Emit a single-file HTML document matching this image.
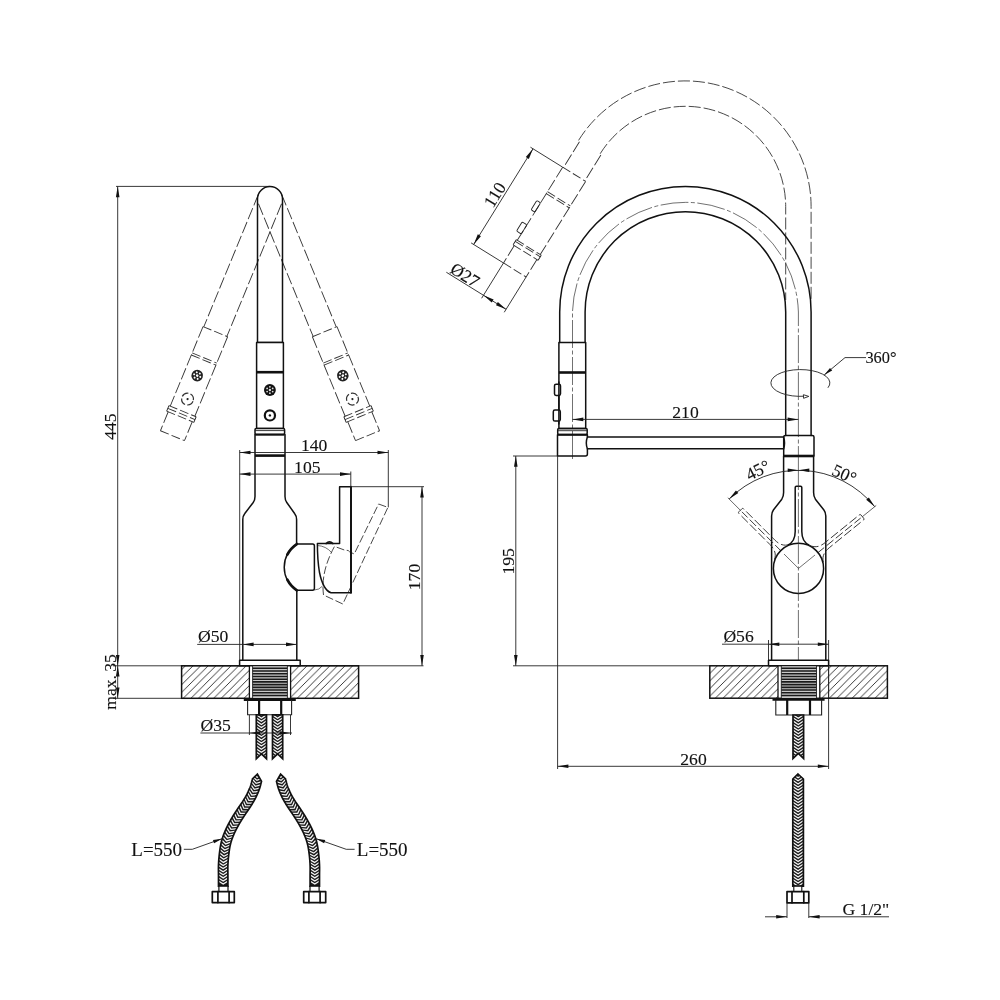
<!DOCTYPE html>
<html><head><meta charset="utf-8"><title>Faucet drawing</title>
<style>
html,body{margin:0;padding:0;background:#fff}
svg{display:block}
text{font-family:"Liberation Serif",serif;font-size:17.6px;fill:#111;stroke:#111;stroke-width:0.12}
.k{fill:none;stroke:#111;stroke-width:1.5;stroke-linejoin:round;stroke-linecap:round}
.kf{fill:#fff;stroke:#111;stroke-width:1.5;stroke-linejoin:round}
.h{fill:none;stroke:#111;stroke-width:2.6}
.t{fill:none;stroke:#222;stroke-width:0.9}
.tt{fill:none;stroke:#333;stroke-width:0.7}
.d{fill:none;stroke:#333;stroke-width:0.9;stroke-dasharray:12 3}
.d2{fill:none;stroke:#333;stroke-width:0.9;stroke-dasharray:9 3}
.ds{fill:none;stroke:#333;stroke-width:0.9;stroke-dasharray:5 2.5}
.c{fill:none;stroke:#333;stroke-width:0.7;stroke-dasharray:28 2.5 4 2.5}
.ar{fill:#111;stroke:none}
</style></head><body>
<svg width="1000" height="1000" viewBox="0 0 1000 1000" style="will-change:transform">
<defs>
<pattern id="hatch" patternUnits="userSpaceOnUse" width="7.6" height="7.6">
<path d="M-1,8.6 L8.6,-1 M-1,1 L1,-1 M6.6,8.6 L8.6,6.6" stroke="#222" stroke-width="0.9" fill="none"/>
</pattern>
</defs>
<rect width="1000" height="1000" fill="#fff"/>

<g id="left">
<path class="t" d="M116,186.4 H270 M117.7,186.4 V698.4 M113,665.8 H423.5 M113,698.3 H181.6"/>
<path class="ar" d="M117.70,186.40 L119.50,197.20 L115.90,197.20 Z"/>
<path class="ar" d="M117.70,665.80 L115.90,655.00 L119.50,655.00 Z"/>
<path class="ar" d="M117.70,665.80 L119.50,676.60 L115.90,676.60 Z"/>
<path class="ar" d="M117.70,698.30 L115.90,687.50 L119.50,687.50 Z"/>
<text transform="translate(116,426.6) rotate(-90)" text-anchor="middle">445</text>
<text transform="translate(116,682) rotate(-90)" text-anchor="middle" style="word-spacing:-1.2px">max. 35</text>
<g transform="rotate(22.4 270 199) translate(270 0)"><path class="d" d="M-12.5,199 V342.5 M12.5,199 V342.5"/>
<path class="d2" d="M-13.3,342.5 H13.3"/>
<path class="d" d="M-13.3,342.5 V428.5 M13.3,342.5 V428.5"/>
<path class="d2" d="M-13.3,371 H13.3 M-13.3,373.2 H13.3"/>
<path class="d2" d="M-14.7,428.5 H14.7 M-14.7,431.5 H14.7 M-14.7,434.5 H14.7"/>
<path class="t" d="M-14.7,428.5 V434.5 M14.7,428.5 V434.5"/>
<path class="d" d="M-13,434.5 V455 M13,434.5 V455"/>
<path class="d2" d="M-13,455 H13"/>
<circle cx="0" cy="390" r="5.8" fill="#222"/>
<circle cx="3.30" cy="390.00" r="1.0" fill="#fff"/>
<circle cx="1.65" cy="392.86" r="1.0" fill="#fff"/>
<circle cx="-1.65" cy="392.86" r="1.0" fill="#fff"/>
<circle cx="-3.30" cy="390.00" r="1.0" fill="#fff"/>
<circle cx="-1.65" cy="387.14" r="1.0" fill="#fff"/>
<circle cx="1.65" cy="387.14" r="1.0" fill="#fff"/>
<circle cx="0" cy="390" r="1.3" fill="#fff"/>
<circle cx="0" cy="415.4" r="5.9" class="ds" style="stroke-width:1.2;stroke-dasharray:7 2.3"/>
<circle cx="0" cy="415.4" r="1.1" fill="#222"/></g>
<g transform="rotate(-22.4 270 199) translate(270 0)"><path class="d" d="M-12.5,199 V342.5 M12.5,199 V342.5"/>
<path class="d2" d="M-13.3,342.5 H13.3"/>
<path class="d" d="M-13.3,342.5 V428.5 M13.3,342.5 V428.5"/>
<path class="d2" d="M-13.3,371 H13.3 M-13.3,373.2 H13.3"/>
<path class="d2" d="M-14.7,428.5 H14.7 M-14.7,431.5 H14.7 M-14.7,434.5 H14.7"/>
<path class="t" d="M-14.7,428.5 V434.5 M14.7,428.5 V434.5"/>
<path class="d" d="M-13,434.5 V455 M13,434.5 V455"/>
<path class="d2" d="M-13,455 H13"/>
<circle cx="0" cy="390" r="5.8" fill="#222"/>
<circle cx="3.30" cy="390.00" r="1.0" fill="#fff"/>
<circle cx="1.65" cy="392.86" r="1.0" fill="#fff"/>
<circle cx="-1.65" cy="392.86" r="1.0" fill="#fff"/>
<circle cx="-3.30" cy="390.00" r="1.0" fill="#fff"/>
<circle cx="-1.65" cy="387.14" r="1.0" fill="#fff"/>
<circle cx="1.65" cy="387.14" r="1.0" fill="#fff"/>
<circle cx="0" cy="390" r="1.3" fill="#fff"/>
<circle cx="0" cy="415.4" r="5.9" class="ds" style="stroke-width:1.2;stroke-dasharray:7 2.3"/>
<circle cx="0" cy="415.4" r="1.1" fill="#222"/></g>
<path class="k" d="M257.5,342.4 V199 A12.5,12.5 0 0 1 282.5,199 V342.4 Z"/>
<rect class="kf" x="256.6" y="342.4" width="26.8" height="86"/>
<path class="h" d="M256.6,372.2 H283.4"/>
<circle cx="269.9" cy="390" r="5.9" fill="#111"/>
<circle cx="272.67" cy="391.60" r="0.9" fill="#ddd"/>
<circle cx="269.90" cy="393.20" r="0.9" fill="#ddd"/>
<circle cx="267.13" cy="391.60" r="0.9" fill="#ddd"/>
<circle cx="267.13" cy="388.40" r="0.9" fill="#ddd"/>
<circle cx="269.90" cy="386.80" r="0.9" fill="#ddd"/>
<circle cx="272.67" cy="388.40" r="0.9" fill="#ddd"/>
<circle cx="269.9" cy="390" r="1.2" fill="#ddd"/>
<circle cx="269.9" cy="415.4" r="5.1" fill="#fff" stroke="#111" stroke-width="2.2"/>
<circle cx="269.9" cy="415.4" r="1.2" fill="#111"/>
<rect class="kf" x="255" y="428.5" width="29.6" height="6" rx="1.2"/>
<path class="t" d="M255,430.6 H284.6"/>
<path class="h" style="stroke-width:2" d="M255,434.6 H284.6"/>
<path class="k" d="M255,434.6 V496.5 Q255,500 253.2,502.5 L244.8,513.5 Q242.8,516 242.8,519.5 V660.3 M285,434.6 V496.5 Q285,500 286.8,502.5 L294.6,513.5 Q296.6,516 296.6,519.5 V544 M296.8,590.3 V660.3"/>
<path class="h" d="M255,455.6 H285"/>
<path class="kf" d="M296.8,544 H312.6 Q314.4,544 314.4,546 V588.3 Q314.4,590.3 312.6,590.3 H296.8 A27.6,27.6 0 0 1 296.8,544 Z"/>
<path class="h" style="stroke-width:2.7;stroke-linecap:round" d="M296.83,544.03 A27.6,27.6 0 0 0 287.31,554.62 M287.31,579.68 A27.6,27.6 0 0 0 296.83,590.27"/>
<path class="d2" style="stroke-dasharray:8 2.6" d="M378.6,504 L387.9,507.4 L342.8,604 L323.5,595 Q320.5,572 334.5,546.4 L346,550.6 Q348,549.6 349.6,551.8 L354.2,554 Z"/>
<path class="tt" d="M314.4,590 Q319,590 322.6,586 M317.4,545.5 Q326,546 331.5,552.5"/>
<path class="k" d="M326,543.6 Q329.5,540.2 333,543.6"/>
<path class="kf" style="fill:none" d="M317.4,543.6 H339.6 V486.7 H351 V592.8 H331 Q323,590 319.4,572 Q317.4,560 317.4,543.6 Z"/>
<path class="k" style="stroke-width:1.9" d="M351,486.7 V592.8"/>
<rect class="kf" x="239.6" y="660.3" width="60.6" height="5.5"/>
<rect x="181.6" y="665.8" width="177" height="32.5" fill="url(#hatch)" stroke="#111" stroke-width="1.5"/>
<rect x="249.4" y="665.8" width="41.2" height="32.6" fill="#fff" stroke="#111" stroke-width="1.3"/>
<rect x="252.6" y="666.5" width="34.8" height="31.5" fill="#c8c8c8"/>
<path class="t" d="M252.6,665.8 V698.3 M287.4,665.8 V698.3"/>
<path d="M252.6,668.30 H287.4 M252.6,671.02 H287.4 M252.6,673.74 H287.4 M252.6,676.46 H287.4 M252.6,679.18 H287.4 M252.6,681.90 H287.4 M252.6,684.62 H287.4 M252.6,687.34 H287.4 M252.6,690.06 H287.4 M252.6,692.78 H287.4 M252.6,695.50 H287.4 " stroke="#1a1a1a" stroke-width="1.6" fill="none"/>
<path class="h" d="M243.8,699.6 H295.8"/>
<path class="t" style="stroke-width:1.1" d="M247.6,700 V714.8 H291.6 V700"/>
<path class="h" style="stroke-width:2.2" d="M259.1,700 V714.8 M281.2,700 V714.8"/>
<clipPath id="hc1"><path d="M256.3,714.8 H266.5 V758.8 L261.4,754 L256.3,758.8 Z"/></clipPath>
<path d="M256.3,714.8 H266.5 V758.8 L261.4,754 L256.3,758.8 Z" fill="#1c1c1c"/>
<path d="M256.10,708.40 L261.40,712.00 L266.70,708.40 M256.10,711.50 L261.40,715.10 L266.70,711.50 M256.10,714.60 L261.40,718.20 L266.70,714.60 M256.10,717.70 L261.40,721.30 L266.70,717.70 M256.10,720.80 L261.40,724.40 L266.70,720.80 M256.10,723.90 L261.40,727.50 L266.70,723.90 M256.10,727.00 L261.40,730.60 L266.70,727.00 M256.10,730.10 L261.40,733.70 L266.70,730.10 M256.10,733.20 L261.40,736.80 L266.70,733.20 M256.10,736.30 L261.40,739.90 L266.70,736.30 M256.10,739.40 L261.40,743.00 L266.70,739.40 M256.10,742.50 L261.40,746.10 L266.70,742.50 M256.10,745.60 L261.40,749.20 L266.70,745.60 M256.10,748.70 L261.40,752.30 L266.70,748.70 M256.10,751.80 L261.40,755.40 L266.70,751.80 M256.10,754.90 L261.40,758.50 L266.70,754.90 M256.10,758.00 L261.40,761.60 L266.70,758.00 " clip-path="url(#hc1)" fill="none" stroke="#f4f4f4" stroke-width="1.25"/>
<path d="M256.3,714.8 H266.5 V758.8 L261.4,754 L256.3,758.8 Z" fill="none" stroke="#111" stroke-width="1.7" stroke-linejoin="miter"/>
<clipPath id="hc2"><path d="M272.5,714.8 H282.7 V758.8 L277.6,754 L272.5,758.8 Z"/></clipPath>
<path d="M272.5,714.8 H282.7 V758.8 L277.6,754 L272.5,758.8 Z" fill="#1c1c1c"/>
<path d="M272.30,708.40 L277.60,712.00 L282.90,708.40 M272.30,711.50 L277.60,715.10 L282.90,711.50 M272.30,714.60 L277.60,718.20 L282.90,714.60 M272.30,717.70 L277.60,721.30 L282.90,717.70 M272.30,720.80 L277.60,724.40 L282.90,720.80 M272.30,723.90 L277.60,727.50 L282.90,723.90 M272.30,727.00 L277.60,730.60 L282.90,727.00 M272.30,730.10 L277.60,733.70 L282.90,730.10 M272.30,733.20 L277.60,736.80 L282.90,733.20 M272.30,736.30 L277.60,739.90 L282.90,736.30 M272.30,739.40 L277.60,743.00 L282.90,739.40 M272.30,742.50 L277.60,746.10 L282.90,742.50 M272.30,745.60 L277.60,749.20 L282.90,745.60 M272.30,748.70 L277.60,752.30 L282.90,748.70 M272.30,751.80 L277.60,755.40 L282.90,751.80 M272.30,754.90 L277.60,758.50 L282.90,754.90 M272.30,758.00 L277.60,761.60 L282.90,758.00 " clip-path="url(#hc2)" fill="none" stroke="#f4f4f4" stroke-width="1.25"/>
<path d="M272.5,714.8 H282.7 V758.8 L277.6,754 L272.5,758.8 Z" fill="none" stroke="#111" stroke-width="1.7" stroke-linejoin="miter"/>
<path class="t" d="M249.4,715 V735 M290.5,715 V735 M200.4,733 H292"/>
<path class="ar" d="M249.40,733.00 L260.20,731.20 L260.20,734.80 Z"/>
<path class="ar" d="M290.50,733.00 L279.70,734.80 L279.70,731.20 Z"/>
<text x="200.6" y="731.3">Ø35</text>
<path class="t" d="M197.2,644.4 H296.8"/>
<path class="ar" d="M242.80,644.40 L253.60,642.60 L253.60,646.20 Z"/>
<path class="ar" d="M296.80,644.40 L286.00,646.20 L286.00,642.60 Z"/>
<text x="198" y="642.3">Ø50</text>
<path class="t" d="M239.7,450 V660.3 M388.3,450 V507.4 M239.7,452.5 H388.3 M239.7,474.1 H350.8 M350.8,471.5 V486.7 M351,486.7 H424 M422,486.7 V665.8"/>
<path class="ar" d="M239.70,452.50 L250.50,450.70 L250.50,454.30 Z"/>
<path class="ar" d="M388.30,452.50 L377.50,454.30 L377.50,450.70 Z"/>
<path class="ar" d="M239.70,474.10 L250.50,472.30 L250.50,475.90 Z"/>
<path class="ar" d="M350.80,474.10 L340.00,475.90 L340.00,472.30 Z"/>
<path class="ar" d="M422.00,486.70 L423.80,497.50 L420.20,497.50 Z"/>
<path class="ar" d="M422.00,665.80 L420.20,655.00 L423.80,655.00 Z"/>
<text x="314.2" y="451.2" text-anchor="middle">140</text>
<text x="307.3" y="472.8" text-anchor="middle">105</text>
<text transform="translate(420.3,577) rotate(-90)" text-anchor="middle">170</text>
<clipPath id="hc3"><path d="M257.40,774.20 L252.43,778.91 L252.36,779.19 L252.27,779.53 L252.19,779.90 L252.09,780.29 L251.99,780.71 L251.89,781.15 L251.77,781.61 L251.66,782.08 L251.53,782.56 L251.41,783.06 L251.27,783.55 L251.14,784.03 L251.00,784.51 L250.86,784.97 L250.71,785.41 L250.57,785.84 L250.41,786.29 L250.23,786.75 L250.05,787.23 L249.87,787.71 L249.67,788.20 L249.48,788.69 L249.27,789.19 L249.06,789.69 L248.84,790.19 L248.62,790.69 L248.40,791.19 L248.17,791.70 L247.93,792.20 L247.69,792.69 L247.45,793.19 L247.21,793.68 L246.96,794.16 L246.71,794.65 L246.45,795.13 L246.18,795.61 L245.91,796.10 L245.63,796.59 L245.35,797.08 L245.06,797.57 L244.77,798.07 L244.47,798.57 L244.16,799.07 L243.85,799.58 L243.53,800.10 L243.20,800.62 L242.87,801.15 L242.54,801.67 L242.21,802.19 L241.87,802.70 L241.52,803.22 L241.16,803.76 L240.79,804.30 L240.41,804.84 L240.02,805.40 L239.62,805.96 L239.22,806.53 L238.81,807.11 L238.41,807.70 L237.99,808.30 L237.58,808.90 L237.17,809.51 L236.76,810.13 L236.36,810.74 L235.97,811.35 L235.58,811.95 L235.19,812.56 L234.79,813.18 L234.40,813.80 L234.01,814.42 L233.61,815.05 L233.22,815.69 L232.83,816.32 L232.44,816.96 L232.06,817.60 L231.67,818.24 L231.30,818.88 L230.92,819.53 L230.55,820.17 L230.19,820.81 L229.84,821.44 L229.50,822.07 L229.16,822.70 L228.82,823.33 L228.48,823.97 L228.15,824.60 L227.82,825.24 L227.49,825.88 L227.17,826.52 L226.85,827.17 L226.54,827.81 L226.24,828.46 L225.94,829.11 L225.64,829.76 L225.35,830.41 L225.07,831.06 L224.81,831.70 L224.54,832.33 L224.29,832.96 L224.04,833.59 L223.79,834.23 L223.55,834.86 L223.31,835.50 L223.08,836.15 L222.86,836.80 L222.64,837.45 L222.42,838.11 L222.21,838.78 L222.01,839.46 L221.82,840.15 L221.63,840.84 L221.44,841.55 L221.27,842.28 L221.10,843.01 L220.94,843.75 L220.79,844.49 L220.64,845.23 L220.51,845.97 L220.38,846.72 L220.25,847.46 L220.14,848.21 L220.02,848.95 L219.92,849.69 L219.81,850.43 L219.71,851.16 L219.62,851.88 L219.53,852.60 L219.44,853.32 L219.35,854.05 L219.26,854.78 L219.18,855.51 L219.11,856.25 L219.04,856.98 L218.97,857.71 L218.91,858.45 L218.85,859.18 L218.79,859.90 L218.74,860.63 L218.69,861.35 L218.65,862.07 L218.61,862.79 L218.57,863.50 L218.53,864.20 L218.50,864.91 L218.48,865.63 L218.46,866.34 L218.44,867.04 L218.44,867.74 L218.43,868.42 L218.43,869.10 L218.44,869.78 L218.44,870.44 L218.45,871.10 L218.46,871.76 L218.47,872.41 L218.48,873.05 L218.49,873.70 L218.49,874.33 L218.50,874.97 L218.50,875.61 L218.50,876.28 L218.50,876.98 L218.50,877.72 L218.50,878.47 L218.50,879.23 L218.50,880.00 L218.50,880.76 L218.50,881.51 L218.50,882.23 L218.50,882.93 L218.50,883.59 L218.50,884.21 L218.50,884.78 L218.50,885.29 L218.50,885.73 L218.50,886.10 L227.90,886.10 L227.90,885.73 L227.90,885.29 L227.90,884.78 L227.90,884.21 L227.90,883.59 L227.90,882.93 L227.90,882.23 L227.90,881.51 L227.90,880.76 L227.90,880.00 L227.90,879.23 L227.90,878.47 L227.90,877.72 L227.90,876.98 L227.90,876.28 L227.90,875.59 L227.90,874.92 L227.89,874.25 L227.89,873.59 L227.88,872.93 L227.87,872.28 L227.86,871.63 L227.85,870.98 L227.84,870.34 L227.84,869.71 L227.83,869.07 L227.83,868.44 L227.84,867.81 L227.84,867.18 L227.86,866.55 L227.87,865.93 L227.90,865.29 L227.92,864.63 L227.96,863.97 L227.99,863.30 L228.03,862.63 L228.07,861.95 L228.12,861.27 L228.16,860.59 L228.22,859.91 L228.27,859.23 L228.33,858.55 L228.39,857.87 L228.46,857.19 L228.53,856.51 L228.60,855.83 L228.68,855.15 L228.76,854.48 L228.85,853.79 L228.94,853.10 L229.03,852.40 L229.13,851.71 L229.22,851.02 L229.32,850.33 L229.43,849.64 L229.53,848.96 L229.64,848.29 L229.76,847.62 L229.88,846.96 L230.01,846.32 L230.14,845.68 L230.27,845.06 L230.41,844.45 L230.56,843.85 L230.71,843.25 L230.87,842.67 L231.04,842.09 L231.21,841.52 L231.38,840.96 L231.56,840.39 L231.75,839.83 L231.94,839.28 L232.14,838.72 L232.35,838.16 L232.56,837.60 L232.78,837.04 L233.01,836.47 L233.24,835.90 L233.48,835.32 L233.73,834.74 L233.97,834.16 L234.22,833.59 L234.48,833.02 L234.75,832.44 L235.02,831.86 L235.30,831.28 L235.59,830.70 L235.88,830.12 L236.18,829.53 L236.48,828.95 L236.79,828.36 L237.11,827.77 L237.43,827.17 L237.75,826.58 L238.08,825.98 L238.41,825.39 L238.73,824.80 L239.07,824.21 L239.41,823.62 L239.76,823.03 L240.12,822.43 L240.48,821.83 L240.85,821.23 L241.22,820.63 L241.59,820.03 L241.97,819.42 L242.35,818.82 L242.73,818.22 L243.11,817.62 L243.49,817.03 L243.87,816.44 L244.24,815.86 L244.61,815.30 L244.98,814.74 L245.36,814.18 L245.74,813.62 L246.13,813.06 L246.52,812.50 L246.92,811.93 L247.32,811.36 L247.72,810.79 L248.12,810.22 L248.52,809.64 L248.92,809.06 L249.31,808.48 L249.70,807.90 L250.09,807.31 L250.46,806.73 L250.82,806.16 L251.17,805.61 L251.51,805.07 L251.85,804.52 L252.18,803.97 L252.51,803.43 L252.84,802.89 L253.16,802.34 L253.48,801.80 L253.80,801.25 L254.11,800.70 L254.41,800.15 L254.71,799.60 L255.01,799.05 L255.31,798.49 L255.59,797.92 L255.88,797.36 L256.15,796.79 L256.43,796.22 L256.69,795.65 L256.95,795.08 L257.21,794.51 L257.46,793.94 L257.71,793.37 L257.94,792.81 L258.18,792.25 L258.40,791.69 L258.62,791.13 L258.83,790.59 L259.04,790.04 L259.24,789.50 L259.43,788.96 L259.63,788.39 L259.82,787.80 L260.00,787.21 L260.17,786.62 L260.34,786.04 L260.49,785.47 L260.64,784.91 L260.77,784.37 L260.90,783.85 L261.02,783.36 L261.13,782.90 L261.23,782.48 L261.32,782.10 L261.40,781.78 L261.47,781.51 L261.53,781.29 Z"/></clipPath>
<path d="M257.40,774.20 L252.43,778.91 L252.36,779.19 L252.27,779.53 L252.19,779.90 L252.09,780.29 L251.99,780.71 L251.89,781.15 L251.77,781.61 L251.66,782.08 L251.53,782.56 L251.41,783.06 L251.27,783.55 L251.14,784.03 L251.00,784.51 L250.86,784.97 L250.71,785.41 L250.57,785.84 L250.41,786.29 L250.23,786.75 L250.05,787.23 L249.87,787.71 L249.67,788.20 L249.48,788.69 L249.27,789.19 L249.06,789.69 L248.84,790.19 L248.62,790.69 L248.40,791.19 L248.17,791.70 L247.93,792.20 L247.69,792.69 L247.45,793.19 L247.21,793.68 L246.96,794.16 L246.71,794.65 L246.45,795.13 L246.18,795.61 L245.91,796.10 L245.63,796.59 L245.35,797.08 L245.06,797.57 L244.77,798.07 L244.47,798.57 L244.16,799.07 L243.85,799.58 L243.53,800.10 L243.20,800.62 L242.87,801.15 L242.54,801.67 L242.21,802.19 L241.87,802.70 L241.52,803.22 L241.16,803.76 L240.79,804.30 L240.41,804.84 L240.02,805.40 L239.62,805.96 L239.22,806.53 L238.81,807.11 L238.41,807.70 L237.99,808.30 L237.58,808.90 L237.17,809.51 L236.76,810.13 L236.36,810.74 L235.97,811.35 L235.58,811.95 L235.19,812.56 L234.79,813.18 L234.40,813.80 L234.01,814.42 L233.61,815.05 L233.22,815.69 L232.83,816.32 L232.44,816.96 L232.06,817.60 L231.67,818.24 L231.30,818.88 L230.92,819.53 L230.55,820.17 L230.19,820.81 L229.84,821.44 L229.50,822.07 L229.16,822.70 L228.82,823.33 L228.48,823.97 L228.15,824.60 L227.82,825.24 L227.49,825.88 L227.17,826.52 L226.85,827.17 L226.54,827.81 L226.24,828.46 L225.94,829.11 L225.64,829.76 L225.35,830.41 L225.07,831.06 L224.81,831.70 L224.54,832.33 L224.29,832.96 L224.04,833.59 L223.79,834.23 L223.55,834.86 L223.31,835.50 L223.08,836.15 L222.86,836.80 L222.64,837.45 L222.42,838.11 L222.21,838.78 L222.01,839.46 L221.82,840.15 L221.63,840.84 L221.44,841.55 L221.27,842.28 L221.10,843.01 L220.94,843.75 L220.79,844.49 L220.64,845.23 L220.51,845.97 L220.38,846.72 L220.25,847.46 L220.14,848.21 L220.02,848.95 L219.92,849.69 L219.81,850.43 L219.71,851.16 L219.62,851.88 L219.53,852.60 L219.44,853.32 L219.35,854.05 L219.26,854.78 L219.18,855.51 L219.11,856.25 L219.04,856.98 L218.97,857.71 L218.91,858.45 L218.85,859.18 L218.79,859.90 L218.74,860.63 L218.69,861.35 L218.65,862.07 L218.61,862.79 L218.57,863.50 L218.53,864.20 L218.50,864.91 L218.48,865.63 L218.46,866.34 L218.44,867.04 L218.44,867.74 L218.43,868.42 L218.43,869.10 L218.44,869.78 L218.44,870.44 L218.45,871.10 L218.46,871.76 L218.47,872.41 L218.48,873.05 L218.49,873.70 L218.49,874.33 L218.50,874.97 L218.50,875.61 L218.50,876.28 L218.50,876.98 L218.50,877.72 L218.50,878.47 L218.50,879.23 L218.50,880.00 L218.50,880.76 L218.50,881.51 L218.50,882.23 L218.50,882.93 L218.50,883.59 L218.50,884.21 L218.50,884.78 L218.50,885.29 L218.50,885.73 L218.50,886.10 L227.90,886.10 L227.90,885.73 L227.90,885.29 L227.90,884.78 L227.90,884.21 L227.90,883.59 L227.90,882.93 L227.90,882.23 L227.90,881.51 L227.90,880.76 L227.90,880.00 L227.90,879.23 L227.90,878.47 L227.90,877.72 L227.90,876.98 L227.90,876.28 L227.90,875.59 L227.90,874.92 L227.89,874.25 L227.89,873.59 L227.88,872.93 L227.87,872.28 L227.86,871.63 L227.85,870.98 L227.84,870.34 L227.84,869.71 L227.83,869.07 L227.83,868.44 L227.84,867.81 L227.84,867.18 L227.86,866.55 L227.87,865.93 L227.90,865.29 L227.92,864.63 L227.96,863.97 L227.99,863.30 L228.03,862.63 L228.07,861.95 L228.12,861.27 L228.16,860.59 L228.22,859.91 L228.27,859.23 L228.33,858.55 L228.39,857.87 L228.46,857.19 L228.53,856.51 L228.60,855.83 L228.68,855.15 L228.76,854.48 L228.85,853.79 L228.94,853.10 L229.03,852.40 L229.13,851.71 L229.22,851.02 L229.32,850.33 L229.43,849.64 L229.53,848.96 L229.64,848.29 L229.76,847.62 L229.88,846.96 L230.01,846.32 L230.14,845.68 L230.27,845.06 L230.41,844.45 L230.56,843.85 L230.71,843.25 L230.87,842.67 L231.04,842.09 L231.21,841.52 L231.38,840.96 L231.56,840.39 L231.75,839.83 L231.94,839.28 L232.14,838.72 L232.35,838.16 L232.56,837.60 L232.78,837.04 L233.01,836.47 L233.24,835.90 L233.48,835.32 L233.73,834.74 L233.97,834.16 L234.22,833.59 L234.48,833.02 L234.75,832.44 L235.02,831.86 L235.30,831.28 L235.59,830.70 L235.88,830.12 L236.18,829.53 L236.48,828.95 L236.79,828.36 L237.11,827.77 L237.43,827.17 L237.75,826.58 L238.08,825.98 L238.41,825.39 L238.73,824.80 L239.07,824.21 L239.41,823.62 L239.76,823.03 L240.12,822.43 L240.48,821.83 L240.85,821.23 L241.22,820.63 L241.59,820.03 L241.97,819.42 L242.35,818.82 L242.73,818.22 L243.11,817.62 L243.49,817.03 L243.87,816.44 L244.24,815.86 L244.61,815.30 L244.98,814.74 L245.36,814.18 L245.74,813.62 L246.13,813.06 L246.52,812.50 L246.92,811.93 L247.32,811.36 L247.72,810.79 L248.12,810.22 L248.52,809.64 L248.92,809.06 L249.31,808.48 L249.70,807.90 L250.09,807.31 L250.46,806.73 L250.82,806.16 L251.17,805.61 L251.51,805.07 L251.85,804.52 L252.18,803.97 L252.51,803.43 L252.84,802.89 L253.16,802.34 L253.48,801.80 L253.80,801.25 L254.11,800.70 L254.41,800.15 L254.71,799.60 L255.01,799.05 L255.31,798.49 L255.59,797.92 L255.88,797.36 L256.15,796.79 L256.43,796.22 L256.69,795.65 L256.95,795.08 L257.21,794.51 L257.46,793.94 L257.71,793.37 L257.94,792.81 L258.18,792.25 L258.40,791.69 L258.62,791.13 L258.83,790.59 L259.04,790.04 L259.24,789.50 L259.43,788.96 L259.63,788.39 L259.82,787.80 L260.00,787.21 L260.17,786.62 L260.34,786.04 L260.49,785.47 L260.64,784.91 L260.77,784.37 L260.90,783.85 L261.02,783.36 L261.13,782.90 L261.23,782.48 L261.32,782.10 L261.40,781.78 L261.47,781.51 L261.53,781.29 Z" fill="#1c1c1c"/>
<path d="M251.97,770.20 L257.40,774.20 L263.34,771.01 M251.78,773.25 L257.18,777.29 L263.15,774.16 M251.87,775.90 L256.91,780.38 L263.12,777.75 M251.57,778.46 L256.17,783.39 L262.60,781.34 M251.00,781.21 L255.34,786.37 L261.87,784.67 M250.27,783.88 L254.30,789.29 L260.91,787.98 M249.33,786.57 L253.11,792.16 L259.78,791.14 M248.28,789.23 L251.81,794.97 L258.51,794.25 M247.11,791.83 L250.39,797.72 L257.11,797.29 M245.78,794.41 L248.84,800.41 L255.58,800.22 M244.31,796.97 L247.22,803.05 L253.96,803.04 M242.80,799.50 L245.54,805.66 L252.28,805.83 M241.16,802.00 L243.78,808.21 L250.52,808.50 M239.34,804.56 L242.01,810.75 L248.75,811.00 M237.49,807.19 L240.28,813.33 L247.02,813.44 M235.72,809.85 L238.61,815.94 L245.35,815.94 M233.99,812.52 L236.97,818.57 L243.71,818.47 M232.26,815.24 L235.37,821.22 L242.11,820.98 M230.59,818.02 L233.85,823.92 L240.58,823.52 M228.98,820.83 L232.38,826.65 L239.10,826.09 M227.42,823.70 L230.98,829.42 L237.68,828.66 M225.91,826.65 L229.69,832.24 L236.35,831.23 M224.51,829.66 L228.50,835.10 L235.12,833.84 M223.20,832.74 L227.41,838.00 L233.97,836.46 M221.99,835.92 L226.47,840.96 L232.94,839.07 M220.94,839.19 L225.70,843.96 L232.06,841.71 M220.12,842.45 L225.10,847.00 L231.34,844.46 M219.50,845.67 L224.61,850.06 L230.78,847.33 M218.99,848.85 L224.20,853.13 L230.30,850.27 M218.54,852.04 L223.84,856.21 L229.88,853.22 M218.16,855.25 L223.55,859.30 L229.52,856.17 M217.86,858.46 L223.34,862.39 L229.24,859.13 M217.61,861.70 L223.19,865.49 L229.00,862.07 M217.45,864.96 L223.13,868.59 L228.85,865.01 M217.42,868.14 L223.16,871.69 L228.82,868.03 M217.47,871.22 L223.20,874.79 L228.87,871.15 M217.50,874.29 L223.20,877.89 L228.90,874.28 M217.50,877.39 L223.20,880.99 L228.90,877.39 M217.50,880.49 L223.20,884.09 L228.90,880.49 " clip-path="url(#hc3)" fill="none" stroke="#f4f4f4" stroke-width="1.25"/>
<path d="M257.40,774.20 L252.43,778.91 L252.36,779.19 L252.27,779.53 L252.19,779.90 L252.09,780.29 L251.99,780.71 L251.89,781.15 L251.77,781.61 L251.66,782.08 L251.53,782.56 L251.41,783.06 L251.27,783.55 L251.14,784.03 L251.00,784.51 L250.86,784.97 L250.71,785.41 L250.57,785.84 L250.41,786.29 L250.23,786.75 L250.05,787.23 L249.87,787.71 L249.67,788.20 L249.48,788.69 L249.27,789.19 L249.06,789.69 L248.84,790.19 L248.62,790.69 L248.40,791.19 L248.17,791.70 L247.93,792.20 L247.69,792.69 L247.45,793.19 L247.21,793.68 L246.96,794.16 L246.71,794.65 L246.45,795.13 L246.18,795.61 L245.91,796.10 L245.63,796.59 L245.35,797.08 L245.06,797.57 L244.77,798.07 L244.47,798.57 L244.16,799.07 L243.85,799.58 L243.53,800.10 L243.20,800.62 L242.87,801.15 L242.54,801.67 L242.21,802.19 L241.87,802.70 L241.52,803.22 L241.16,803.76 L240.79,804.30 L240.41,804.84 L240.02,805.40 L239.62,805.96 L239.22,806.53 L238.81,807.11 L238.41,807.70 L237.99,808.30 L237.58,808.90 L237.17,809.51 L236.76,810.13 L236.36,810.74 L235.97,811.35 L235.58,811.95 L235.19,812.56 L234.79,813.18 L234.40,813.80 L234.01,814.42 L233.61,815.05 L233.22,815.69 L232.83,816.32 L232.44,816.96 L232.06,817.60 L231.67,818.24 L231.30,818.88 L230.92,819.53 L230.55,820.17 L230.19,820.81 L229.84,821.44 L229.50,822.07 L229.16,822.70 L228.82,823.33 L228.48,823.97 L228.15,824.60 L227.82,825.24 L227.49,825.88 L227.17,826.52 L226.85,827.17 L226.54,827.81 L226.24,828.46 L225.94,829.11 L225.64,829.76 L225.35,830.41 L225.07,831.06 L224.81,831.70 L224.54,832.33 L224.29,832.96 L224.04,833.59 L223.79,834.23 L223.55,834.86 L223.31,835.50 L223.08,836.15 L222.86,836.80 L222.64,837.45 L222.42,838.11 L222.21,838.78 L222.01,839.46 L221.82,840.15 L221.63,840.84 L221.44,841.55 L221.27,842.28 L221.10,843.01 L220.94,843.75 L220.79,844.49 L220.64,845.23 L220.51,845.97 L220.38,846.72 L220.25,847.46 L220.14,848.21 L220.02,848.95 L219.92,849.69 L219.81,850.43 L219.71,851.16 L219.62,851.88 L219.53,852.60 L219.44,853.32 L219.35,854.05 L219.26,854.78 L219.18,855.51 L219.11,856.25 L219.04,856.98 L218.97,857.71 L218.91,858.45 L218.85,859.18 L218.79,859.90 L218.74,860.63 L218.69,861.35 L218.65,862.07 L218.61,862.79 L218.57,863.50 L218.53,864.20 L218.50,864.91 L218.48,865.63 L218.46,866.34 L218.44,867.04 L218.44,867.74 L218.43,868.42 L218.43,869.10 L218.44,869.78 L218.44,870.44 L218.45,871.10 L218.46,871.76 L218.47,872.41 L218.48,873.05 L218.49,873.70 L218.49,874.33 L218.50,874.97 L218.50,875.61 L218.50,876.28 L218.50,876.98 L218.50,877.72 L218.50,878.47 L218.50,879.23 L218.50,880.00 L218.50,880.76 L218.50,881.51 L218.50,882.23 L218.50,882.93 L218.50,883.59 L218.50,884.21 L218.50,884.78 L218.50,885.29 L218.50,885.73 L218.50,886.10 L227.90,886.10 L227.90,885.73 L227.90,885.29 L227.90,884.78 L227.90,884.21 L227.90,883.59 L227.90,882.93 L227.90,882.23 L227.90,881.51 L227.90,880.76 L227.90,880.00 L227.90,879.23 L227.90,878.47 L227.90,877.72 L227.90,876.98 L227.90,876.28 L227.90,875.59 L227.90,874.92 L227.89,874.25 L227.89,873.59 L227.88,872.93 L227.87,872.28 L227.86,871.63 L227.85,870.98 L227.84,870.34 L227.84,869.71 L227.83,869.07 L227.83,868.44 L227.84,867.81 L227.84,867.18 L227.86,866.55 L227.87,865.93 L227.90,865.29 L227.92,864.63 L227.96,863.97 L227.99,863.30 L228.03,862.63 L228.07,861.95 L228.12,861.27 L228.16,860.59 L228.22,859.91 L228.27,859.23 L228.33,858.55 L228.39,857.87 L228.46,857.19 L228.53,856.51 L228.60,855.83 L228.68,855.15 L228.76,854.48 L228.85,853.79 L228.94,853.10 L229.03,852.40 L229.13,851.71 L229.22,851.02 L229.32,850.33 L229.43,849.64 L229.53,848.96 L229.64,848.29 L229.76,847.62 L229.88,846.96 L230.01,846.32 L230.14,845.68 L230.27,845.06 L230.41,844.45 L230.56,843.85 L230.71,843.25 L230.87,842.67 L231.04,842.09 L231.21,841.52 L231.38,840.96 L231.56,840.39 L231.75,839.83 L231.94,839.28 L232.14,838.72 L232.35,838.16 L232.56,837.60 L232.78,837.04 L233.01,836.47 L233.24,835.90 L233.48,835.32 L233.73,834.74 L233.97,834.16 L234.22,833.59 L234.48,833.02 L234.75,832.44 L235.02,831.86 L235.30,831.28 L235.59,830.70 L235.88,830.12 L236.18,829.53 L236.48,828.95 L236.79,828.36 L237.11,827.77 L237.43,827.17 L237.75,826.58 L238.08,825.98 L238.41,825.39 L238.73,824.80 L239.07,824.21 L239.41,823.62 L239.76,823.03 L240.12,822.43 L240.48,821.83 L240.85,821.23 L241.22,820.63 L241.59,820.03 L241.97,819.42 L242.35,818.82 L242.73,818.22 L243.11,817.62 L243.49,817.03 L243.87,816.44 L244.24,815.86 L244.61,815.30 L244.98,814.74 L245.36,814.18 L245.74,813.62 L246.13,813.06 L246.52,812.50 L246.92,811.93 L247.32,811.36 L247.72,810.79 L248.12,810.22 L248.52,809.64 L248.92,809.06 L249.31,808.48 L249.70,807.90 L250.09,807.31 L250.46,806.73 L250.82,806.16 L251.17,805.61 L251.51,805.07 L251.85,804.52 L252.18,803.97 L252.51,803.43 L252.84,802.89 L253.16,802.34 L253.48,801.80 L253.80,801.25 L254.11,800.70 L254.41,800.15 L254.71,799.60 L255.01,799.05 L255.31,798.49 L255.59,797.92 L255.88,797.36 L256.15,796.79 L256.43,796.22 L256.69,795.65 L256.95,795.08 L257.21,794.51 L257.46,793.94 L257.71,793.37 L257.94,792.81 L258.18,792.25 L258.40,791.69 L258.62,791.13 L258.83,790.59 L259.04,790.04 L259.24,789.50 L259.43,788.96 L259.63,788.39 L259.82,787.80 L260.00,787.21 L260.17,786.62 L260.34,786.04 L260.49,785.47 L260.64,784.91 L260.77,784.37 L260.90,783.85 L261.02,783.36 L261.13,782.90 L261.23,782.48 L261.32,782.10 L261.40,781.78 L261.47,781.51 L261.53,781.29 Z" fill="none" stroke="#111" stroke-width="1.7" stroke-linejoin="miter"/>
<rect class="kf" style="stroke-width:1.2" x="218.90" y="886.1" width="9.10" height="5.6"/>
<rect class="kf" style="stroke-width:1.7" x="212.30" y="891.7" width="22.00" height="10.9"/>
<path class="k" style="stroke-width:1.7" d="M217.90,891.7 V902.6 M229.10,891.7 V902.6"/>
<clipPath id="hc4"><path d="M280.60,774.20 L285.57,778.91 L285.64,779.19 L285.73,779.53 L285.81,779.90 L285.91,780.29 L286.01,780.71 L286.11,781.15 L286.23,781.61 L286.34,782.08 L286.47,782.56 L286.59,783.06 L286.73,783.55 L286.86,784.03 L287.00,784.51 L287.14,784.97 L287.29,785.41 L287.43,785.84 L287.59,786.29 L287.77,786.75 L287.95,787.23 L288.13,787.71 L288.33,788.20 L288.52,788.69 L288.73,789.19 L288.94,789.69 L289.16,790.19 L289.38,790.69 L289.60,791.19 L289.83,791.70 L290.07,792.20 L290.31,792.69 L290.55,793.19 L290.79,793.68 L291.04,794.16 L291.29,794.65 L291.55,795.13 L291.82,795.61 L292.09,796.10 L292.37,796.59 L292.65,797.08 L292.94,797.57 L293.23,798.07 L293.53,798.57 L293.84,799.07 L294.15,799.58 L294.47,800.10 L294.80,800.62 L295.13,801.15 L295.46,801.67 L295.79,802.19 L296.13,802.70 L296.48,803.22 L296.84,803.76 L297.21,804.30 L297.59,804.84 L297.98,805.40 L298.38,805.96 L298.78,806.53 L299.19,807.11 L299.59,807.70 L300.01,808.30 L300.42,808.90 L300.83,809.51 L301.24,810.13 L301.64,810.74 L302.03,811.35 L302.42,811.95 L302.81,812.56 L303.21,813.18 L303.60,813.80 L303.99,814.42 L304.39,815.05 L304.78,815.69 L305.17,816.32 L305.56,816.96 L305.94,817.60 L306.33,818.24 L306.70,818.88 L307.08,819.53 L307.45,820.17 L307.81,820.81 L308.16,821.44 L308.50,822.07 L308.84,822.70 L309.18,823.33 L309.52,823.97 L309.85,824.60 L310.18,825.24 L310.51,825.88 L310.83,826.52 L311.15,827.17 L311.46,827.81 L311.76,828.46 L312.06,829.11 L312.36,829.76 L312.65,830.41 L312.93,831.06 L313.19,831.70 L313.46,832.33 L313.71,832.96 L313.96,833.59 L314.21,834.23 L314.45,834.86 L314.69,835.50 L314.92,836.15 L315.14,836.80 L315.36,837.45 L315.58,838.11 L315.79,838.78 L315.99,839.46 L316.18,840.15 L316.37,840.84 L316.56,841.55 L316.73,842.28 L316.90,843.01 L317.06,843.75 L317.21,844.49 L317.36,845.23 L317.49,845.97 L317.62,846.72 L317.75,847.46 L317.86,848.21 L317.98,848.95 L318.08,849.69 L318.19,850.43 L318.29,851.16 L318.38,851.88 L318.47,852.60 L318.56,853.32 L318.65,854.05 L318.74,854.78 L318.82,855.51 L318.89,856.25 L318.96,856.98 L319.03,857.71 L319.09,858.45 L319.15,859.18 L319.21,859.90 L319.26,860.63 L319.31,861.35 L319.35,862.07 L319.39,862.79 L319.43,863.50 L319.47,864.20 L319.50,864.91 L319.52,865.63 L319.54,866.34 L319.56,867.04 L319.56,867.74 L319.57,868.42 L319.57,869.10 L319.56,869.78 L319.56,870.44 L319.55,871.10 L319.54,871.76 L319.53,872.41 L319.52,873.05 L319.51,873.70 L319.51,874.33 L319.50,874.97 L319.50,875.61 L319.50,876.28 L319.50,876.98 L319.50,877.72 L319.50,878.47 L319.50,879.23 L319.50,880.00 L319.50,880.76 L319.50,881.51 L319.50,882.23 L319.50,882.93 L319.50,883.59 L319.50,884.21 L319.50,884.78 L319.50,885.29 L319.50,885.73 L319.50,886.10 L310.10,886.10 L310.10,885.73 L310.10,885.29 L310.10,884.78 L310.10,884.21 L310.10,883.59 L310.10,882.93 L310.10,882.23 L310.10,881.51 L310.10,880.76 L310.10,880.00 L310.10,879.23 L310.10,878.47 L310.10,877.72 L310.10,876.98 L310.10,876.28 L310.10,875.59 L310.10,874.92 L310.11,874.25 L310.11,873.59 L310.12,872.93 L310.13,872.28 L310.14,871.63 L310.15,870.98 L310.16,870.34 L310.16,869.71 L310.17,869.07 L310.17,868.44 L310.16,867.81 L310.16,867.18 L310.14,866.55 L310.13,865.93 L310.10,865.29 L310.08,864.63 L310.04,863.97 L310.01,863.30 L309.97,862.63 L309.93,861.95 L309.88,861.27 L309.84,860.59 L309.78,859.91 L309.73,859.23 L309.67,858.55 L309.61,857.87 L309.54,857.19 L309.47,856.51 L309.40,855.83 L309.32,855.15 L309.24,854.48 L309.15,853.79 L309.06,853.10 L308.97,852.40 L308.87,851.71 L308.78,851.02 L308.68,850.33 L308.57,849.64 L308.47,848.96 L308.36,848.29 L308.24,847.62 L308.12,846.96 L307.99,846.32 L307.86,845.68 L307.73,845.06 L307.59,844.45 L307.44,843.85 L307.29,843.25 L307.13,842.67 L306.96,842.09 L306.79,841.52 L306.62,840.96 L306.44,840.39 L306.25,839.83 L306.06,839.28 L305.86,838.72 L305.65,838.16 L305.44,837.60 L305.22,837.04 L304.99,836.47 L304.76,835.90 L304.52,835.32 L304.27,834.74 L304.03,834.16 L303.78,833.59 L303.52,833.02 L303.25,832.44 L302.98,831.86 L302.70,831.28 L302.41,830.70 L302.12,830.12 L301.82,829.53 L301.52,828.95 L301.21,828.36 L300.89,827.77 L300.57,827.17 L300.25,826.58 L299.92,825.98 L299.59,825.39 L299.27,824.80 L298.93,824.21 L298.59,823.62 L298.24,823.03 L297.88,822.43 L297.52,821.83 L297.15,821.23 L296.78,820.63 L296.41,820.03 L296.03,819.42 L295.65,818.82 L295.27,818.22 L294.89,817.62 L294.51,817.03 L294.13,816.44 L293.76,815.86 L293.39,815.30 L293.02,814.74 L292.64,814.18 L292.26,813.62 L291.87,813.06 L291.48,812.50 L291.08,811.93 L290.68,811.36 L290.28,810.79 L289.88,810.22 L289.48,809.64 L289.08,809.06 L288.69,808.48 L288.30,807.90 L287.91,807.31 L287.54,806.73 L287.18,806.16 L286.83,805.61 L286.49,805.07 L286.15,804.52 L285.82,803.97 L285.49,803.43 L285.16,802.89 L284.84,802.34 L284.52,801.80 L284.20,801.25 L283.89,800.70 L283.59,800.15 L283.29,799.60 L282.99,799.05 L282.69,798.49 L282.41,797.92 L282.12,797.36 L281.85,796.79 L281.57,796.22 L281.31,795.65 L281.05,795.08 L280.79,794.51 L280.54,793.94 L280.29,793.37 L280.06,792.81 L279.82,792.25 L279.60,791.69 L279.38,791.13 L279.17,790.59 L278.96,790.04 L278.76,789.50 L278.57,788.96 L278.37,788.39 L278.18,787.80 L278.00,787.21 L277.83,786.62 L277.66,786.04 L277.51,785.47 L277.36,784.91 L277.23,784.37 L277.10,783.85 L276.98,783.36 L276.87,782.90 L276.77,782.48 L276.68,782.10 L276.60,781.78 L276.53,781.51 L276.47,781.29 Z"/></clipPath>
<path d="M280.60,774.20 L285.57,778.91 L285.64,779.19 L285.73,779.53 L285.81,779.90 L285.91,780.29 L286.01,780.71 L286.11,781.15 L286.23,781.61 L286.34,782.08 L286.47,782.56 L286.59,783.06 L286.73,783.55 L286.86,784.03 L287.00,784.51 L287.14,784.97 L287.29,785.41 L287.43,785.84 L287.59,786.29 L287.77,786.75 L287.95,787.23 L288.13,787.71 L288.33,788.20 L288.52,788.69 L288.73,789.19 L288.94,789.69 L289.16,790.19 L289.38,790.69 L289.60,791.19 L289.83,791.70 L290.07,792.20 L290.31,792.69 L290.55,793.19 L290.79,793.68 L291.04,794.16 L291.29,794.65 L291.55,795.13 L291.82,795.61 L292.09,796.10 L292.37,796.59 L292.65,797.08 L292.94,797.57 L293.23,798.07 L293.53,798.57 L293.84,799.07 L294.15,799.58 L294.47,800.10 L294.80,800.62 L295.13,801.15 L295.46,801.67 L295.79,802.19 L296.13,802.70 L296.48,803.22 L296.84,803.76 L297.21,804.30 L297.59,804.84 L297.98,805.40 L298.38,805.96 L298.78,806.53 L299.19,807.11 L299.59,807.70 L300.01,808.30 L300.42,808.90 L300.83,809.51 L301.24,810.13 L301.64,810.74 L302.03,811.35 L302.42,811.95 L302.81,812.56 L303.21,813.18 L303.60,813.80 L303.99,814.42 L304.39,815.05 L304.78,815.69 L305.17,816.32 L305.56,816.96 L305.94,817.60 L306.33,818.24 L306.70,818.88 L307.08,819.53 L307.45,820.17 L307.81,820.81 L308.16,821.44 L308.50,822.07 L308.84,822.70 L309.18,823.33 L309.52,823.97 L309.85,824.60 L310.18,825.24 L310.51,825.88 L310.83,826.52 L311.15,827.17 L311.46,827.81 L311.76,828.46 L312.06,829.11 L312.36,829.76 L312.65,830.41 L312.93,831.06 L313.19,831.70 L313.46,832.33 L313.71,832.96 L313.96,833.59 L314.21,834.23 L314.45,834.86 L314.69,835.50 L314.92,836.15 L315.14,836.80 L315.36,837.45 L315.58,838.11 L315.79,838.78 L315.99,839.46 L316.18,840.15 L316.37,840.84 L316.56,841.55 L316.73,842.28 L316.90,843.01 L317.06,843.75 L317.21,844.49 L317.36,845.23 L317.49,845.97 L317.62,846.72 L317.75,847.46 L317.86,848.21 L317.98,848.95 L318.08,849.69 L318.19,850.43 L318.29,851.16 L318.38,851.88 L318.47,852.60 L318.56,853.32 L318.65,854.05 L318.74,854.78 L318.82,855.51 L318.89,856.25 L318.96,856.98 L319.03,857.71 L319.09,858.45 L319.15,859.18 L319.21,859.90 L319.26,860.63 L319.31,861.35 L319.35,862.07 L319.39,862.79 L319.43,863.50 L319.47,864.20 L319.50,864.91 L319.52,865.63 L319.54,866.34 L319.56,867.04 L319.56,867.74 L319.57,868.42 L319.57,869.10 L319.56,869.78 L319.56,870.44 L319.55,871.10 L319.54,871.76 L319.53,872.41 L319.52,873.05 L319.51,873.70 L319.51,874.33 L319.50,874.97 L319.50,875.61 L319.50,876.28 L319.50,876.98 L319.50,877.72 L319.50,878.47 L319.50,879.23 L319.50,880.00 L319.50,880.76 L319.50,881.51 L319.50,882.23 L319.50,882.93 L319.50,883.59 L319.50,884.21 L319.50,884.78 L319.50,885.29 L319.50,885.73 L319.50,886.10 L310.10,886.10 L310.10,885.73 L310.10,885.29 L310.10,884.78 L310.10,884.21 L310.10,883.59 L310.10,882.93 L310.10,882.23 L310.10,881.51 L310.10,880.76 L310.10,880.00 L310.10,879.23 L310.10,878.47 L310.10,877.72 L310.10,876.98 L310.10,876.28 L310.10,875.59 L310.10,874.92 L310.11,874.25 L310.11,873.59 L310.12,872.93 L310.13,872.28 L310.14,871.63 L310.15,870.98 L310.16,870.34 L310.16,869.71 L310.17,869.07 L310.17,868.44 L310.16,867.81 L310.16,867.18 L310.14,866.55 L310.13,865.93 L310.10,865.29 L310.08,864.63 L310.04,863.97 L310.01,863.30 L309.97,862.63 L309.93,861.95 L309.88,861.27 L309.84,860.59 L309.78,859.91 L309.73,859.23 L309.67,858.55 L309.61,857.87 L309.54,857.19 L309.47,856.51 L309.40,855.83 L309.32,855.15 L309.24,854.48 L309.15,853.79 L309.06,853.10 L308.97,852.40 L308.87,851.71 L308.78,851.02 L308.68,850.33 L308.57,849.64 L308.47,848.96 L308.36,848.29 L308.24,847.62 L308.12,846.96 L307.99,846.32 L307.86,845.68 L307.73,845.06 L307.59,844.45 L307.44,843.85 L307.29,843.25 L307.13,842.67 L306.96,842.09 L306.79,841.52 L306.62,840.96 L306.44,840.39 L306.25,839.83 L306.06,839.28 L305.86,838.72 L305.65,838.16 L305.44,837.60 L305.22,837.04 L304.99,836.47 L304.76,835.90 L304.52,835.32 L304.27,834.74 L304.03,834.16 L303.78,833.59 L303.52,833.02 L303.25,832.44 L302.98,831.86 L302.70,831.28 L302.41,830.70 L302.12,830.12 L301.82,829.53 L301.52,828.95 L301.21,828.36 L300.89,827.77 L300.57,827.17 L300.25,826.58 L299.92,825.98 L299.59,825.39 L299.27,824.80 L298.93,824.21 L298.59,823.62 L298.24,823.03 L297.88,822.43 L297.52,821.83 L297.15,821.23 L296.78,820.63 L296.41,820.03 L296.03,819.42 L295.65,818.82 L295.27,818.22 L294.89,817.62 L294.51,817.03 L294.13,816.44 L293.76,815.86 L293.39,815.30 L293.02,814.74 L292.64,814.18 L292.26,813.62 L291.87,813.06 L291.48,812.50 L291.08,811.93 L290.68,811.36 L290.28,810.79 L289.88,810.22 L289.48,809.64 L289.08,809.06 L288.69,808.48 L288.30,807.90 L287.91,807.31 L287.54,806.73 L287.18,806.16 L286.83,805.61 L286.49,805.07 L286.15,804.52 L285.82,803.97 L285.49,803.43 L285.16,802.89 L284.84,802.34 L284.52,801.80 L284.20,801.25 L283.89,800.70 L283.59,800.15 L283.29,799.60 L282.99,799.05 L282.69,798.49 L282.41,797.92 L282.12,797.36 L281.85,796.79 L281.57,796.22 L281.31,795.65 L281.05,795.08 L280.79,794.51 L280.54,793.94 L280.29,793.37 L280.06,792.81 L279.82,792.25 L279.60,791.69 L279.38,791.13 L279.17,790.59 L278.96,790.04 L278.76,789.50 L278.57,788.96 L278.37,788.39 L278.18,787.80 L278.00,787.21 L277.83,786.62 L277.66,786.04 L277.51,785.47 L277.36,784.91 L277.23,784.37 L277.10,783.85 L276.98,783.36 L276.87,782.90 L276.77,782.48 L276.68,782.10 L276.60,781.78 L276.53,781.51 L276.47,781.29 Z" fill="#1c1c1c"/>
<path d="M274.66,771.01 L280.60,774.20 L286.03,770.20 M274.85,774.16 L280.82,777.29 L286.22,773.25 M274.88,777.75 L281.09,780.38 L286.13,775.90 M275.40,781.34 L281.83,783.39 L286.43,778.46 M276.13,784.67 L282.66,786.37 L287.00,781.21 M277.09,787.98 L283.70,789.29 L287.73,783.88 M278.22,791.14 L284.89,792.16 L288.67,786.57 M279.49,794.25 L286.19,794.97 L289.72,789.23 M280.89,797.29 L287.61,797.72 L290.89,791.83 M282.42,800.22 L289.16,800.41 L292.22,794.41 M284.04,803.04 L290.78,803.05 L293.69,796.97 M285.72,805.83 L292.46,805.66 L295.20,799.50 M287.48,808.50 L294.22,808.21 L296.84,802.00 M289.25,811.00 L295.99,810.75 L298.66,804.56 M290.98,813.44 L297.72,813.33 L300.51,807.19 M292.65,815.94 L299.39,815.94 L302.28,809.85 M294.29,818.47 L301.03,818.57 L304.01,812.52 M295.89,820.98 L302.63,821.22 L305.74,815.24 M297.42,823.52 L304.15,823.92 L307.41,818.02 M298.90,826.09 L305.62,826.65 L309.02,820.83 M300.32,828.66 L307.02,829.42 L310.58,823.70 M301.65,831.23 L308.31,832.24 L312.09,826.65 M302.88,833.84 L309.50,835.10 L313.49,829.66 M304.03,836.46 L310.59,838.00 L314.80,832.74 M305.06,839.07 L311.53,840.96 L316.01,835.92 M305.94,841.71 L312.30,843.96 L317.06,839.19 M306.66,844.46 L312.90,847.00 L317.88,842.45 M307.22,847.33 L313.39,850.06 L318.50,845.67 M307.70,850.27 L313.80,853.13 L319.01,848.85 M308.12,853.22 L314.16,856.21 L319.46,852.04 M308.48,856.17 L314.45,859.30 L319.84,855.25 M308.76,859.13 L314.66,862.39 L320.14,858.46 M309.00,862.07 L314.81,865.49 L320.39,861.70 M309.15,865.01 L314.87,868.59 L320.55,864.96 M309.18,868.03 L314.84,871.69 L320.58,868.14 M309.13,871.15 L314.80,874.79 L320.53,871.22 M309.10,874.28 L314.80,877.89 L320.50,874.29 M309.10,877.39 L314.80,880.99 L320.50,877.39 M309.10,880.49 L314.80,884.09 L320.50,880.49 " clip-path="url(#hc4)" fill="none" stroke="#f4f4f4" stroke-width="1.25"/>
<path d="M280.60,774.20 L285.57,778.91 L285.64,779.19 L285.73,779.53 L285.81,779.90 L285.91,780.29 L286.01,780.71 L286.11,781.15 L286.23,781.61 L286.34,782.08 L286.47,782.56 L286.59,783.06 L286.73,783.55 L286.86,784.03 L287.00,784.51 L287.14,784.97 L287.29,785.41 L287.43,785.84 L287.59,786.29 L287.77,786.75 L287.95,787.23 L288.13,787.71 L288.33,788.20 L288.52,788.69 L288.73,789.19 L288.94,789.69 L289.16,790.19 L289.38,790.69 L289.60,791.19 L289.83,791.70 L290.07,792.20 L290.31,792.69 L290.55,793.19 L290.79,793.68 L291.04,794.16 L291.29,794.65 L291.55,795.13 L291.82,795.61 L292.09,796.10 L292.37,796.59 L292.65,797.08 L292.94,797.57 L293.23,798.07 L293.53,798.57 L293.84,799.07 L294.15,799.58 L294.47,800.10 L294.80,800.62 L295.13,801.15 L295.46,801.67 L295.79,802.19 L296.13,802.70 L296.48,803.22 L296.84,803.76 L297.21,804.30 L297.59,804.84 L297.98,805.40 L298.38,805.96 L298.78,806.53 L299.19,807.11 L299.59,807.70 L300.01,808.30 L300.42,808.90 L300.83,809.51 L301.24,810.13 L301.64,810.74 L302.03,811.35 L302.42,811.95 L302.81,812.56 L303.21,813.18 L303.60,813.80 L303.99,814.42 L304.39,815.05 L304.78,815.69 L305.17,816.32 L305.56,816.96 L305.94,817.60 L306.33,818.24 L306.70,818.88 L307.08,819.53 L307.45,820.17 L307.81,820.81 L308.16,821.44 L308.50,822.07 L308.84,822.70 L309.18,823.33 L309.52,823.97 L309.85,824.60 L310.18,825.24 L310.51,825.88 L310.83,826.52 L311.15,827.17 L311.46,827.81 L311.76,828.46 L312.06,829.11 L312.36,829.76 L312.65,830.41 L312.93,831.06 L313.19,831.70 L313.46,832.33 L313.71,832.96 L313.96,833.59 L314.21,834.23 L314.45,834.86 L314.69,835.50 L314.92,836.15 L315.14,836.80 L315.36,837.45 L315.58,838.11 L315.79,838.78 L315.99,839.46 L316.18,840.15 L316.37,840.84 L316.56,841.55 L316.73,842.28 L316.90,843.01 L317.06,843.75 L317.21,844.49 L317.36,845.23 L317.49,845.97 L317.62,846.72 L317.75,847.46 L317.86,848.21 L317.98,848.95 L318.08,849.69 L318.19,850.43 L318.29,851.16 L318.38,851.88 L318.47,852.60 L318.56,853.32 L318.65,854.05 L318.74,854.78 L318.82,855.51 L318.89,856.25 L318.96,856.98 L319.03,857.71 L319.09,858.45 L319.15,859.18 L319.21,859.90 L319.26,860.63 L319.31,861.35 L319.35,862.07 L319.39,862.79 L319.43,863.50 L319.47,864.20 L319.50,864.91 L319.52,865.63 L319.54,866.34 L319.56,867.04 L319.56,867.74 L319.57,868.42 L319.57,869.10 L319.56,869.78 L319.56,870.44 L319.55,871.10 L319.54,871.76 L319.53,872.41 L319.52,873.05 L319.51,873.70 L319.51,874.33 L319.50,874.97 L319.50,875.61 L319.50,876.28 L319.50,876.98 L319.50,877.72 L319.50,878.47 L319.50,879.23 L319.50,880.00 L319.50,880.76 L319.50,881.51 L319.50,882.23 L319.50,882.93 L319.50,883.59 L319.50,884.21 L319.50,884.78 L319.50,885.29 L319.50,885.73 L319.50,886.10 L310.10,886.10 L310.10,885.73 L310.10,885.29 L310.10,884.78 L310.10,884.21 L310.10,883.59 L310.10,882.93 L310.10,882.23 L310.10,881.51 L310.10,880.76 L310.10,880.00 L310.10,879.23 L310.10,878.47 L310.10,877.72 L310.10,876.98 L310.10,876.28 L310.10,875.59 L310.10,874.92 L310.11,874.25 L310.11,873.59 L310.12,872.93 L310.13,872.28 L310.14,871.63 L310.15,870.98 L310.16,870.34 L310.16,869.71 L310.17,869.07 L310.17,868.44 L310.16,867.81 L310.16,867.18 L310.14,866.55 L310.13,865.93 L310.10,865.29 L310.08,864.63 L310.04,863.97 L310.01,863.30 L309.97,862.63 L309.93,861.95 L309.88,861.27 L309.84,860.59 L309.78,859.91 L309.73,859.23 L309.67,858.55 L309.61,857.87 L309.54,857.19 L309.47,856.51 L309.40,855.83 L309.32,855.15 L309.24,854.48 L309.15,853.79 L309.06,853.10 L308.97,852.40 L308.87,851.71 L308.78,851.02 L308.68,850.33 L308.57,849.64 L308.47,848.96 L308.36,848.29 L308.24,847.62 L308.12,846.96 L307.99,846.32 L307.86,845.68 L307.73,845.06 L307.59,844.45 L307.44,843.85 L307.29,843.25 L307.13,842.67 L306.96,842.09 L306.79,841.52 L306.62,840.96 L306.44,840.39 L306.25,839.83 L306.06,839.28 L305.86,838.72 L305.65,838.16 L305.44,837.60 L305.22,837.04 L304.99,836.47 L304.76,835.90 L304.52,835.32 L304.27,834.74 L304.03,834.16 L303.78,833.59 L303.52,833.02 L303.25,832.44 L302.98,831.86 L302.70,831.28 L302.41,830.70 L302.12,830.12 L301.82,829.53 L301.52,828.95 L301.21,828.36 L300.89,827.77 L300.57,827.17 L300.25,826.58 L299.92,825.98 L299.59,825.39 L299.27,824.80 L298.93,824.21 L298.59,823.62 L298.24,823.03 L297.88,822.43 L297.52,821.83 L297.15,821.23 L296.78,820.63 L296.41,820.03 L296.03,819.42 L295.65,818.82 L295.27,818.22 L294.89,817.62 L294.51,817.03 L294.13,816.44 L293.76,815.86 L293.39,815.30 L293.02,814.74 L292.64,814.18 L292.26,813.62 L291.87,813.06 L291.48,812.50 L291.08,811.93 L290.68,811.36 L290.28,810.79 L289.88,810.22 L289.48,809.64 L289.08,809.06 L288.69,808.48 L288.30,807.90 L287.91,807.31 L287.54,806.73 L287.18,806.16 L286.83,805.61 L286.49,805.07 L286.15,804.52 L285.82,803.97 L285.49,803.43 L285.16,802.89 L284.84,802.34 L284.52,801.80 L284.20,801.25 L283.89,800.70 L283.59,800.15 L283.29,799.60 L282.99,799.05 L282.69,798.49 L282.41,797.92 L282.12,797.36 L281.85,796.79 L281.57,796.22 L281.31,795.65 L281.05,795.08 L280.79,794.51 L280.54,793.94 L280.29,793.37 L280.06,792.81 L279.82,792.25 L279.60,791.69 L279.38,791.13 L279.17,790.59 L278.96,790.04 L278.76,789.50 L278.57,788.96 L278.37,788.39 L278.18,787.80 L278.00,787.21 L277.83,786.62 L277.66,786.04 L277.51,785.47 L277.36,784.91 L277.23,784.37 L277.10,783.85 L276.98,783.36 L276.87,782.90 L276.77,782.48 L276.68,782.10 L276.60,781.78 L276.53,781.51 L276.47,781.29 Z" fill="none" stroke="#111" stroke-width="1.7" stroke-linejoin="miter"/>
<rect class="kf" style="stroke-width:1.2" x="310.00" y="886.1" width="9.10" height="5.6"/>
<rect class="kf" style="stroke-width:1.7" x="303.70" y="891.7" width="22.00" height="10.9"/>
<path class="k" style="stroke-width:1.7" d="M320.10,891.7 V902.6 M308.90,891.7 V902.6"/>
<text x="131.3" y="855.7" style="font-size:19px">L=550</text>
<path class="t" d="M183.8,849.3 H192.3 L222,838.7"/>
<path class="ar" d="M222.00,838.70 L214.10,843.33 L212.95,840.12 Z"/>
<text x="356.8" y="855.7" style="font-size:19px">L=550</text>
<path class="t" d="M354.6,849.3 H346.2 L316.2,838.7"/>
<path class="ar" d="M316.20,838.70 L325.25,840.10 L324.12,843.30 Z"/>
</g>
<g id="right">
<path class="d" d="M578.57,140.36 A125.70,125.70 0 0 1 811.10,206.60 V300.00"/>
<path class="d" d="M600.16,153.75 A100.30,100.30 0 0 1 785.70,206.60 V300.00"/>
<g transform="translate(590.16 148.45) rotate(31.80) translate(-572.5 -312)"><path class="d" d="M559.9,312 V342.4 M585.1,312 V342.4"/>
<path class="d2" d="M559,342.4 H586"/>
<path class="d" d="M559,342.4 V428.5 M586,342.4 V428.5"/>
<path class="d2" d="M559,371.3 H586 M559,373.5 H586"/>
<path class="d2" d="M557.8,428.5 H587.2 M557.8,430.4 H587.2 M557.8,434.5 H587.2"/>
<path class="t" d="M557.8,428.5 V434.5 M587.2,428.5 V434.5"/>
<path class="d" d="M559.2,434.5 V455 M585.8,434.5 V455"/>
<path class="d2" d="M559.2,455 H585.8"/>
<rect class="t" x="554.6" y="384.3" width="4.4" height="11" rx="1.3"/>
<rect class="t" x="553.4" y="410.2" width="5.6" height="10.8" rx="1.3"/></g>
<path class="t" d="M533.01,148.79 L473.67,244.48 M562.67,167.18 L530.46,147.21 M503.50,262.98 L471.12,242.90"/>
<path class="ar" d="M533.01,148.79 L528.85,158.91 L525.79,157.02 Z"/>
<path class="ar" d="M473.67,244.48 L477.83,234.36 L480.89,236.25 Z"/>
<text transform="translate(499.77,197.84) rotate(-58.20)" text-anchor="middle">110</text>
<path class="t" d="M503.50,262.98 L481.64,298.25 M526.11,277.00 L504.24,312.27 M446.34,272.25 L506.09,309.29"/>
<path class="ar" d="M483.48,295.28 L493.61,299.44 L491.71,302.50 Z"/>
<path class="ar" d="M506.09,309.29 L495.96,305.13 L497.86,302.07 Z"/>
<text transform="translate(461.83,280.09) rotate(31.80)" text-anchor="middle">Ø27</text>
<path class="k" d="M559.70,342.4 V312.00 A125.70,125.70 0 0 1 811.10,312.00 V435.4"/>
<path class="k" d="M585.10,342.4 V312.00 A100.30,100.30 0 0 1 785.70,312.00 V435.4"/>
<path class="c" d="M572.50,459 V312.00 A113.00,113.00 0 0 1 798.40,312.00 V462"/>
<rect class="k" x="558.9" y="342.4" width="26.8" height="86.1"/>
<path class="h" d="M558.9,372.5 H585.7"/>
<rect class="kf" x="554.5" y="384.2" width="6" height="11.2" rx="1.6"/>
<rect class="kf" x="553.3" y="410.1" width="7" height="10.9" rx="1.6"/>
<path class="k" d="M558.9,382 V424" />
<rect class="k" x="557.7" y="428.5" width="29.5" height="6" rx="1.2"/>
<path class="t" d="M557.7,430.7 H587.2"/>
<path class="h" style="stroke-width:2" d="M557.5,434.8 H587.4"/>
<path class="k" d="M557.5,434.8 V456 H585.4 Q587.4,456 587.4,454 V448.8 M587.4,437.1 V434.8"/>
<path class="k" d="M587.4,437.1 H783.7 M587.4,448.8 H783.7 M587.4,437.1 Q585.2,443 587.4,448.8 M783.7,437.1 Q785.4,443 783.7,448.8"/>
<path class="k" d="M783.7,456 V437.1 Q783.7,435.4 785.4,435.4 H812.3 Q814,435.4 814,437.1 V456"/>
<path class="h" d="M783.7,456 H814"/>
<path class="k" d="M783.6,456 V492.5 Q783.6,496.5 781.8,499.2 L773.4,510 Q771.6,512.5 771.6,516 V660.3 M813.6,456 V492.5 Q813.6,496.5 815.4,499.2 L823.9,510 Q825.8,512.5 825.8,516 V660.3"/>
<g transform="rotate(-45 798.5 568.4)"><path class="d2" d="M787.70,545.20 C792.50,542.90 795.20,538.90 795.20,531.40 V487.40 Q795.20,486.20 796.40,486.20 H800.60 Q801.80,486.20 801.80,487.40 V531.40 C801.80,538.90 804.50,542.90 809.30,545.20"/><path class="d2" d="M798.5,544.4 V488.4"/><path class="tt" d="M798.5,486.4 V468.4"/></g>
<g transform="rotate(51 798.5 568.4)"><path class="d2" d="M787.70,545.20 C792.50,542.90 795.20,538.90 795.20,531.40 V487.40 Q795.20,486.20 796.40,486.20 H800.60 Q801.80,486.20 801.80,487.40 V531.40 C801.80,538.90 804.50,542.90 809.30,545.20"/><path class="d2" d="M798.5,544.4 V488.4"/><path class="tt" d="M798.5,486.4 V468.4"/></g>
<path class="kf" d="M787.70,545.20 C792.50,542.90 795.20,538.90 795.20,531.40 V487.40 Q795.20,486.20 796.40,486.20 H800.60 Q801.80,486.20 801.80,487.40 V531.40 C801.80,538.90 804.50,542.90 809.30,545.20"/>
<circle class="kf" cx="798.5" cy="568.4" r="25.1"/>
<path class="tt" d="M784,554 L798.5,568.4 L815,555"/>
<path class="c" d="M798.4,462 V667"/>
<path class="t" d="M729.13,499.03 A98.1,98.1 0 0 1 874.74,506.66"/>
<path class="ar" d="M798.50,470.30 L787.70,472.10 L787.70,468.50 Z"/>
<path class="ar" d="M798.50,470.30 L809.30,468.50 L809.30,472.10 Z"/>
<path class="ar" d="M729.13,499.03 L735.92,490.45 L738.34,493.11 Z"/>
<path class="ar" d="M874.74,506.66 L866.20,499.81 L868.88,497.41 Z"/>
<text transform="translate(760.5,475.5) rotate(-27)" text-anchor="middle">45°</text>
<text transform="translate(842,479.5) rotate(24)" text-anchor="middle">50°</text>
<path class="t" d="M827.9,387.8 A29.5,13.4 0 1 0 805,396.2"/>
<path class="t" style="fill:#fff" d="M808.8,396.4 L803.4,394.7 L803.6,398.3 Z"/>
<path class="t" d="M866,357.6 H845 L824.2,375"/>
<path class="ar" d="M824.20,375.00 L830.01,367.92 L832.19,370.53 Z"/>
<text transform="translate(865.4,363) scale(0.93,1)">360°</text>
<path class="t" d="M572.5,419.4 H798.4"/>
<path class="ar" d="M572.50,419.40 L583.30,417.60 L583.30,421.20 Z"/>
<path class="ar" d="M798.40,419.40 L787.60,421.20 L787.60,417.60 Z"/>
<text x="685.5" y="418" text-anchor="middle">210</text>
<path class="t" d="M513,456 H557.5 M513,665.8 H709.8 M515.8,456 V665.8"/>
<path class="ar" d="M515.80,456.00 L517.60,466.80 L514.00,466.80 Z"/>
<path class="ar" d="M515.80,665.80 L514.00,655.00 L517.60,655.00 Z"/>
<text transform="translate(514.3,561.3) rotate(-90)" text-anchor="middle">195</text>
<path class="t" d="M557.6,456 V769 M828.6,640 V769 M557.6,766.3 H828.6 M768.5,640 V660.3"/>
<path class="ar" d="M557.60,766.30 L568.40,764.50 L568.40,768.10 Z"/>
<path class="ar" d="M828.60,766.30 L817.80,768.10 L817.80,764.50 Z"/>
<text x="693.5" y="764.8" text-anchor="middle">260</text>
<path class="t" d="M722,644.2 H828.6"/>
<path class="ar" d="M768.50,644.20 L779.30,642.40 L779.30,646.00 Z"/>
<path class="ar" d="M828.60,644.20 L817.80,646.00 L817.80,642.40 Z"/>
<text x="723.4" y="642.2">Ø56</text>
<rect class="kf" x="768.5" y="660.3" width="60.1" height="5.5"/>
<rect x="709.8" y="665.8" width="177.6" height="32.4" fill="url(#hatch)" stroke="#111" stroke-width="1.5"/>
<rect x="778" y="665.8" width="41.8" height="32.4" fill="#fff" stroke="#111" stroke-width="1.3"/>
<rect x="781.3" y="666.5" width="35.2" height="31.5" fill="#c8c8c8"/>
<path class="t" d="M781.3,665.8 V698.2 M816.5,665.8 V698.2 M828.6,665.8 V698.2"/>
<path d="M781.3,668.30 H816.5 M781.3,671.02 H816.5 M781.3,673.74 H816.5 M781.3,676.46 H816.5 M781.3,679.18 H816.5 M781.3,681.90 H816.5 M781.3,684.62 H816.5 M781.3,687.34 H816.5 M781.3,690.06 H816.5 M781.3,692.78 H816.5 M781.3,695.50 H816.5 " stroke="#1a1a1a" stroke-width="1.6" fill="none"/>
<path class="h" d="M772.5,699.5 H824.6"/>
<path class="t" style="stroke-width:1.1" d="M775.8,700 V715 H821.6 V700"/>
<path class="h" style="stroke-width:2.2" d="M787.2,700 V715 M810,700 V715"/>
<clipPath id="hc5"><path d="M793,715 H803.6 V758.6 L798.3,753.4 L793,758.6 Z"/></clipPath>
<path d="M793,715 H803.6 V758.6 L798.3,753.4 L793,758.6 Z" fill="#1c1c1c"/>
<path d="M792.80,708.40 L798.30,712.00 L803.80,708.40 M792.80,711.50 L798.30,715.10 L803.80,711.50 M792.80,714.60 L798.30,718.20 L803.80,714.60 M792.80,717.70 L798.30,721.30 L803.80,717.70 M792.80,720.80 L798.30,724.40 L803.80,720.80 M792.80,723.90 L798.30,727.50 L803.80,723.90 M792.80,727.00 L798.30,730.60 L803.80,727.00 M792.80,730.10 L798.30,733.70 L803.80,730.10 M792.80,733.20 L798.30,736.80 L803.80,733.20 M792.80,736.30 L798.30,739.90 L803.80,736.30 M792.80,739.40 L798.30,743.00 L803.80,739.40 M792.80,742.50 L798.30,746.10 L803.80,742.50 M792.80,745.60 L798.30,749.20 L803.80,745.60 M792.80,748.70 L798.30,752.30 L803.80,748.70 M792.80,751.80 L798.30,755.40 L803.80,751.80 M792.80,754.90 L798.30,758.50 L803.80,754.90 M792.80,758.00 L798.30,761.60 L803.80,758.00 " clip-path="url(#hc5)" fill="none" stroke="#f4f4f4" stroke-width="1.25"/>
<path d="M793,715 H803.6 V758.6 L798.3,753.4 L793,758.6 Z" fill="none" stroke="#111" stroke-width="1.7" stroke-linejoin="miter"/>
<clipPath id="hc6"><path d="M798,774 L803.4,779 V886.2 H792.8 V779 Z"/></clipPath>
<path d="M798,774 L803.4,779 V886.2 H792.8 V779 Z" fill="#1c1c1c"/>
<path d="M792.60,767.90 L798.10,771.50 L803.60,767.90 M792.60,771.00 L798.10,774.60 L803.60,771.00 M792.60,774.10 L798.10,777.70 L803.60,774.10 M792.60,777.20 L798.10,780.80 L803.60,777.20 M792.60,780.30 L798.10,783.90 L803.60,780.30 M792.60,783.40 L798.10,787.00 L803.60,783.40 M792.60,786.50 L798.10,790.10 L803.60,786.50 M792.60,789.60 L798.10,793.20 L803.60,789.60 M792.60,792.70 L798.10,796.30 L803.60,792.70 M792.60,795.80 L798.10,799.40 L803.60,795.80 M792.60,798.90 L798.10,802.50 L803.60,798.90 M792.60,802.00 L798.10,805.60 L803.60,802.00 M792.60,805.10 L798.10,808.70 L803.60,805.10 M792.60,808.20 L798.10,811.80 L803.60,808.20 M792.60,811.30 L798.10,814.90 L803.60,811.30 M792.60,814.40 L798.10,818.00 L803.60,814.40 M792.60,817.50 L798.10,821.10 L803.60,817.50 M792.60,820.60 L798.10,824.20 L803.60,820.60 M792.60,823.70 L798.10,827.30 L803.60,823.70 M792.60,826.80 L798.10,830.40 L803.60,826.80 M792.60,829.90 L798.10,833.50 L803.60,829.90 M792.60,833.00 L798.10,836.60 L803.60,833.00 M792.60,836.10 L798.10,839.70 L803.60,836.10 M792.60,839.20 L798.10,842.80 L803.60,839.20 M792.60,842.30 L798.10,845.90 L803.60,842.30 M792.60,845.40 L798.10,849.00 L803.60,845.40 M792.60,848.50 L798.10,852.10 L803.60,848.50 M792.60,851.60 L798.10,855.20 L803.60,851.60 M792.60,854.70 L798.10,858.30 L803.60,854.70 M792.60,857.80 L798.10,861.40 L803.60,857.80 M792.60,860.90 L798.10,864.50 L803.60,860.90 M792.60,864.00 L798.10,867.60 L803.60,864.00 M792.60,867.10 L798.10,870.70 L803.60,867.10 M792.60,870.20 L798.10,873.80 L803.60,870.20 M792.60,873.30 L798.10,876.90 L803.60,873.30 M792.60,876.40 L798.10,880.00 L803.60,876.40 M792.60,879.50 L798.10,883.10 L803.60,879.50 M792.60,882.60 L798.10,886.20 L803.60,882.60 " clip-path="url(#hc6)" fill="none" stroke="#f4f4f4" stroke-width="1.25"/>
<path d="M798,774 L803.4,779 V886.2 H792.8 V779 Z" fill="none" stroke="#111" stroke-width="1.7" stroke-linejoin="miter"/>
<rect class="kf" style="stroke-width:1.1" x="793.8" y="886.2" width="8" height="5.4"/>
<rect class="kf" style="stroke-width:1.7" x="787" y="891.6" width="21.8" height="11.2"/>
<path class="k" style="stroke-width:1.7" d="M792,891.6 V902.8 M803.8,891.6 V902.8"/>
<path class="t" d="M787,903 V918 M808.8,903 V918 M765,916.8 H787 M808.8,916.8 H889"/>
<path class="ar" d="M787.00,916.80 L776.20,918.60 L776.20,915.00 Z"/>
<path class="ar" d="M808.80,916.80 L819.60,915.00 L819.60,918.60 Z"/>
<text x="842.5" y="915">G 1/2"</text>
</g>
</svg></body></html>
